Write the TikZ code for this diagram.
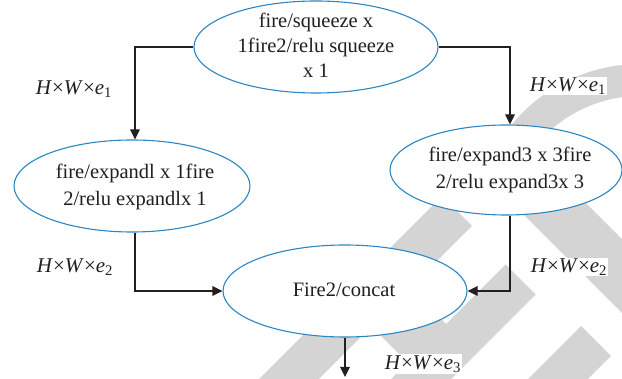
\documentclass[tikz,border=0pt]{standalone}
\usepackage{fontspec}
\setmainfont{Liberation Serif}
\usetikzlibrary{shapes.geometric,arrows.meta}
\definecolor{ellblue}{RGB}{42,135,195}
\definecolor{wmgray}{RGB}{212,212,212}
\definecolor{ink}{RGB}{35,31,32}
\newcommand{\dimlabel}[1]{\textit{H}\texttimes\textit{W}\texttimes\textit{e}\textsubscript{#1}}
\begin{document}
\begin{tikzpicture}[x=1pt,y=-1pt,
  op/.style={ellipse, draw=ellblue, line width=1.1pt, fill=white, inner sep=0pt},
  optext/.style={align=center, inner sep=0pt, text=ink, font=\fontsize{20.5}{25}\selectfont},
  flow/.style={draw=ink, line width=1.1pt, -{Triangle[length=10pt,width=9.5pt]}},
  dimtext/.style={text=ink, fill=white, inner sep=1pt, font=\fontsize{21}{25}\selectfont},
  wmband/.style={draw=wmgray},
  wm/.style={draw=none, fill=wmgray}
]
\useasboundingbox (0,0) rectangle (622,379);

% background watermark: arc and diagonal bars
\draw[wmband, line width=32pt] (495.1,191.2) arc[start angle=195, end angle=285, radius=150];
\draw[wmband, line width=42.4pt] (457,211) -- (259,409);
\draw[wmband, line width=52pt] (538,192) -- (673,327);
\fill[wm] (505.5,264.5) -- (535.5,294.5) -- (430,400) -- (370,400) -- (407.5,362.5)
          -- (342.5,297.5) -- (381,259) -- (446,324) -- cycle;
\draw[wmband, line width=42.4pt] (596,341) -- (518.5,418.5);

% operations
\node[op, minimum width=244, minimum height=92] (sq) at (316,47) {};
\node[optext] (tsq) at (316,45) {fire/squeeze x\\1fire2/relu squeeze\\x 1};

\node[op, minimum width=236, minimum height=92] (ex1) at (132,186) {};
\node[optext, font=\fontsize{20.5}{27}\selectfont] (t1) at (135,187) {fire/expandl x 1fire\\2/relu expandlx 1};

\node[op, minimum width=232, minimum height=90] (ex3) at (506,170) {};
\node[optext, font=\fontsize{20.5}{27}\selectfont] (t3) at (510,170) {fire/expand3 x 3fire\\2/relu expand3x 3};

\node[op, minimum width=244, minimum height=92] (cc) at (345,291) {};
\node[optext] (tcc) at (344,290) {Fire2/concat};

\coordinate (out) at (345,377);

% connectors
\draw[flow] (sq.west) -| (t1 |- ex1.north);
\draw[flow] (sq.east) -| (t3 |- ex3.north);
\draw[flow] (t1 |- ex1.south) |- (cc.west);
\draw[flow] (t3 |- ex3.south) |- (cc.east);
\draw[flow] (cc.south) -- (out);

% tensor sizes
\node[dimtext] (d1l) at (74,89) {\dimlabel{1}};
\node[dimtext] (d1r) at (568,86) {\dimlabel{1}};
\node[dimtext] (d2l) at (75,267) {\dimlabel{2}};
\node[dimtext] (d2r) at (569,267) {\dimlabel{2}};
\node[dimtext] (d3) at (423,364) {\dimlabel{3}};
\end{tikzpicture}
\end{document}
